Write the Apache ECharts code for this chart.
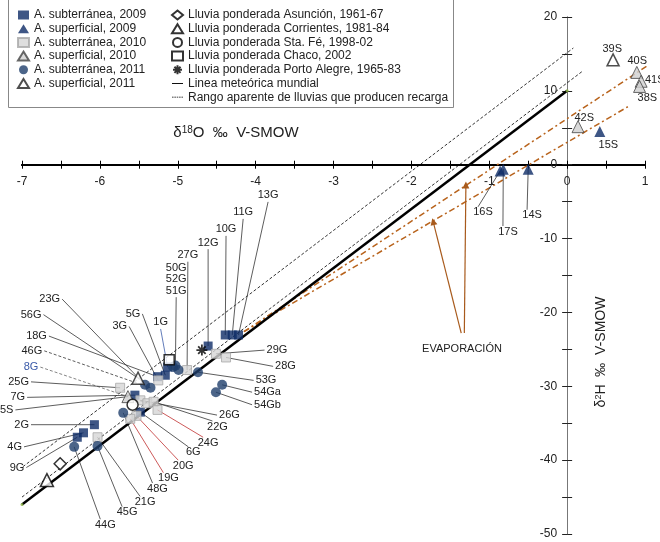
<!DOCTYPE html>
<html><head><meta charset="utf-8">
<script src="https://cdn.jsdelivr.net/npm/echarts@6/dist/echarts.min.js"></script>
<style>html,body{margin:0;padding:0;background:#fff}#c{width:660px;height:542px}</style>
</head><body><div id="c"></div>
<script>
// ---------- DATA ----------
const xTickLabels = [-7,-6,-5,-4,-3,-2,-1,0,1];
const yTickLabels = [20,10,0,-10,-20,-30,-40,-50];

// [id, δ18O, δ2H]
const subterranea2009 = [["10G",-4.39,-23.05],["11G",-4.30,-23.05],["13G",-4.22,-23.05],["12G",-4.61,-24.55],
  ["1G",-5.13,-27.4],["5G",-5.16,-28.5],["18G",-5.26,-28.7],["7G",-5.55,-31.2],["6G",-5.48,-33.5],
  ["2G",-6.07,-35.2],["4G",-6.21,-36.3],["9G",-6.29,-36.9]];
const superficial2009 = [["15S",0.42,4.5],["16S",-0.86,-0.85],["17S",-0.82,-0.6],["14S",-0.50,-0.6]];
const subterranea2010 = [["29G",-4.51,-25.6],["28G",-4.38,-26.1],["27G",-4.88,-27.8],["3G",-5.25,-29.2],
  ["25G",-5.74,-30.2],["26G",-5.48,-31.9],["8G",-5.39,-32.3],["22G",-5.31,-32.1],["24G",-5.26,-33.2],
  ["20G",-5.53,-34.0],["19G",-5.61,-34.4],["21G",-6.03,-36.9]];
const superficial2010 = [["40S",0.895,12.5],["41S",0.95,11.3],["38S",0.93,10.6],["42S",0.14,5.15],["5S",-5.64,-31.4]];
const subterranea2011 = [["50G",-5.06,-27.4],["52G",-4.99,-27.8],["51G",-5.03,-27.2],["53G",-4.74,-28.1],
  ["54Ga",-4.43,-29.8],["54Gb",-4.51,-30.8],["23G",-5.42,-29.8],["46G",-5.35,-30.2],["48G",-5.70,-33.6],
  ["45G",-6.03,-38.1],["44G",-6.33,-38.2]];
const superficial2011 = [["39S",0.59,14.2],["56G",-5.51,-28.9]];

const lluviaAsuncion = [[-6.51,-40.5]];
const lluviaCorrientes = [[-6.68,-42.7]];
const lluviaStaFe = [[-5.58,-32.5]];
const lluviaChaco = [[-5.11,-26.4]];
const lluviaPortoAlegre = [[-4.69,-25.1]];

const lineaMeteorica = [[-7,-46],[0,10]];
const rangoSuperior = [[-7.04,-41.3],[0.08,15.8]];
const rangoInferior = [[-7.0,-45.0],[0.19,12.6]];
const evaporacion1 = [[-4.15,-22.6],[1.19,14.5]];
const evaporacion2 = [[-4.15,-22.6],[0.78,7.85]];
const flechas = [[[-1.36,-22.8],[-1.72,-7.7]],[[-1.32,-22.8],[-1.30,-2.75]]];

// ---------- LABEL LAYOUT (annotation positions, data space) ----------
const RED = '#c03030', BLUE = '#3a5aa8';
const labelLayout = [
  ['13G','T',-3.84,-4.9],['11G','T',-4.16,-7.2],['10G','T',-4.38,-9.5],['12G','T',-4.61,-11.3],
  ['27G','T',-4.87,-13.0],['51G','T',-5.02,-17.8],['1G','T',-5.22,-22.1,{lc:BLUE}],
  ['50G','N',-5.02,-14.0],['52G','N',-5.02,-15.5],
  ['23G','L',-6.51,-18.2],['56G','L',-6.75,-20.3],['5G','L',-5.48,-20.2],['3G','L',-5.65,-21.9],
  ['18G','L',-6.68,-23.2],['46G','L',-6.74,-25.2,{dash:true}],['8G','L',-6.79,-27.4,{tc:BLUE,dash:true,lc:'#666'}],
  ['25G','L',-6.91,-29.4],['7G','L',-6.96,-31.5],['5S','L',-7.11,-33.2],['2G','L',-6.91,-35.2],
  ['4G','L',-7.0,-38.2],['9G','L',-6.97,-41.0],
  ['29G','R',-3.86,-25.1],['28G','R',-3.75,-27.3],['53G','R',-4.0,-29.2],['54Ga','R',-4.02,-30.8],
  ['54Gb','R',-4.02,-32.5],['26G','R',-4.47,-33.9],
  ['22G','B',-4.49,-34.7],['24G','B',-4.61,-36.9,{lc:RED}],['6G','B',-4.80,-38.2],['20G','B',-4.93,-40.0,{lc:RED}],
  ['19G','B',-5.12,-41.7,{lc:RED}],['48G','B',-5.26,-43.1],['21G','B',-5.42,-44.9],['45G','B',-5.65,-46.3],
  ['44G','B',-5.93,-48.0],
  ['16S','B',-1.08,-5.7],['17S','B',-0.76,-8.3],['14S','B',-0.45,-6.1],
  ['39S','N',0.58,15.7],['40S','N',0.90,14.0],['38S','N',1.03,9.0],['42S','N',0.22,6.3],['15S','N',0.53,2.7],
  ['41S','NL',1.0,11.5],
  ['EVAPORACIÓN','N',-1.35,-24.9]
];

// ---------- CHART ----------
const FONT = '"Liberation Sans", Arial, sans-serif';
const pointIndex = {};
[subterranea2009,superficial2009,subterranea2010,superficial2010,subterranea2011,superficial2011]
  .forEach(arr => arr.forEach(p => { pointIndex[p[0]] = [p[1], p[2]]; }));
const xy = arr => arr.map(p => [p[1], p[2]]);

const NAVY = '#0e2c67', NAVYC = '#1f3e6c';
const asterisk = 'path://M5,0L5,10M0,5L10,5M1.6,1.6L8.4,8.4M1.6,8.4L8.4,1.6';

const chart = echarts.init(document.getElementById('c'), null, {renderer:'canvas'});
const axisCommonX = {type:'value', min:-7, max:1, interval:0.5, position:'bottom', splitLine:{show:false}, axisLabel:{show:false}};
const axisCommonY = {type:'value', min:-50, max:20, interval:5, position:'left', splitLine:{show:false}, axisLabel:{show:false}};

const S = (name, data, symbol, size, style, z) => ({
  name, type:'scatter', data, symbol, symbolSize:size, itemStyle:style, z: z||5,
  emphasis:{disabled:true}, animation:false
});
const tickLabelData = xTickLabels.map(v => [v, 0]).concat(yTickLabels.map(v => [0, v]));

chart.setOption({
  animation:false,
  textStyle:{fontFamily:FONT},
  grid:{left:22, right:15, top:17, bottom:8, containLabel:false, outerBoundsMode:'none'},
  xAxis:[
    Object.assign({}, axisCommonX, {
      axisLine:{onZero:true, onZeroAxisIndex:0, lineStyle:{color:'#000', width:2}},
      axisTick:{show:true, length:4, lineStyle:{color:'#000', width:1}}
    }),
    Object.assign({}, axisCommonX, {
      axisLine:{onZero:true, onZeroAxisIndex:0, lineStyle:{color:'#000', width:2}},
      axisTick:{show:true, inside:true, length:4, lineStyle:{color:'#000', width:1}}
    })
  ],
  yAxis:[
    Object.assign({}, axisCommonY, {
      axisLine:{onZero:true, onZeroAxisIndex:0, lineStyle:{color:'#777', width:1}},
      axisTick:{show:true, length:5, lineStyle:{color:'#222', width:1}}
    }),
    Object.assign({}, axisCommonY, {
      axisLine:{onZero:true, onZeroAxisIndex:0, lineStyle:{color:'#777', width:1}},
      axisTick:{show:true, inside:true, length:5, lineStyle:{color:'#222', width:1}}
    })
  ],
  legend:[
    {orient:'vertical', left:12, top:4, itemWidth:11, itemHeight:9, itemGap:1.7, selectedMode:false,
     textStyle:{fontSize:12, color:'#222', fontFamily:FONT},
     data:['A. subterránea, 2009','A. superficial, 2009','A. subterránea, 2010','A. superficial, 2010',
           'A. subterránea, 2011','A. superficial, 2011']},
    {orient:'vertical', left:166, top:4, itemWidth:11, itemHeight:9, itemGap:1.7, selectedMode:false,
     textStyle:{fontSize:12, color:'#222', fontFamily:FONT},
     data:['Lluvia ponderada Asunción, 1961-67','Lluvia ponderada Corrientes, 1981-84',
           'Lluvia ponderada Sta. Fé, 1998-02','Lluvia ponderada Chaco, 2002',
           'Lluvia ponderada Porto Alegre, 1965-83',
           {name:'Linea meteórica mundial', icon:'path://M0,0L14,0L14,1.2L0,1.2Z', itemStyle:{color:'#000'}},
           {name:'Rango aparente de lluvias que producen recarga',
            icon:'path://M0,0L2,0L2,1L0,1ZM3,0L5,0L5,1L3,1ZM6,0L8,0L8,1L6,1ZM9,0L11,0L11,1L9,1ZM12,0L14,0L14,1L12,1Z',
            itemStyle:{color:'#000'}}]}
  ],
  graphic:[
    {type:'rect', shape:{x:8.5, y:-1, width:445, height:108.5}, style:{fill:'none', stroke:'#888', lineWidth:1}, z:0},
    {type:'text', x:236, y:133, style:{text:'{a|δ}{s|18}{a|O  ‰  V-SMOW}', align:'center', verticalAlign:'middle',
      rich:{a:{fontSize:15, fontFamily:FONT, fill:'#222'}, s:{fontSize:10, fontFamily:FONT, fill:'#222', verticalAlign:'top'}}}},
    {type:'text', x:601, y:352, rotation:Math.PI/2, style:{text:'{a|δ}{s|2}{a|H  ‰  V-SMOW}', align:'center', verticalAlign:'middle',
      rich:{a:{fontSize:14, fontFamily:FONT, fill:'#222'}, s:{fontSize:9, fontFamily:FONT, fill:'#222', verticalAlign:'top'}}}}
  ],
  series:[
    {name:'Linea meteórica mundial', type:'line', data:lineaMeteorica, symbol:'none', z:3,
     itemStyle:{color:'#000'}, lineStyle:{color:'#000', width:2.5}, emphasis:{disabled:true}},
    {name:'gmwl-extremos', type:'scatter', data:lineaMeteorica, symbol:'circle', symbolSize:3, z:4, silent:true,
     itemStyle:{color:'#8db545'}},
    {name:'Rango aparente de lluvias que producen recarga', type:'line', data:rangoSuperior, symbol:'none', z:2,
     itemStyle:{color:'#000'}, lineStyle:{color:'#000', width:0.8, type:[3,2]}, emphasis:{disabled:true}},
    {name:'rango-inf', type:'line', data:rangoInferior, symbol:'none', z:2,
     lineStyle:{color:'#000', width:0.8, type:[3,2]}, emphasis:{disabled:true}},
    {name:'evap1', type:'line', data:evaporacion1, symbol:'none', z:2,
     lineStyle:{color:'#b8631c', width:1.5, type:[6,3,2,3]}, emphasis:{disabled:true}},
    {name:'evap2', type:'line', data:evaporacion2, symbol:'none', z:2,
     lineStyle:{color:'#b8631c', width:1.5, type:[6,3,2,3]}, emphasis:{disabled:true}},
    {name:'flechas', type:'lines', coordinateSystem:'cartesian2d', z:3, silent:true,
     data:flechas.map(c => ({coords:c})), symbol:['none','triangle'], symbolSize:7,
     lineStyle:{color:'#a85a1c', width:1.2, opacity:1}},
    {name:'etiquetas-eje', type:'custom', z:3, silent:true, clip:false,
     data:tickLabelData, encode:{x:0, y:1},
     renderItem:(params, api) => {
       const i = params.dataIndex, d = tickLabelData[i];
       const p = api.coord(d);
       const isX = i < xTickLabels.length;
       return {type:'text', x: isX ? p[0] : p[0]-10, y: isX ? p[1]+17 : p[1],
         style:{text:String(isX ? d[0] : d[1]), align: isX ? 'center' : 'right', verticalAlign:'middle',
           fill:'#222', font:'12px "Liberation Sans", Arial, sans-serif'}};
     }},
    {name:'etiquetas', type:'custom', z:3, silent:true, clip:false,
     data:labelLayout.map(l => [l[2], l[3]]), encode:{x:0, y:1},
     renderItem:(params, api) => {
       const L = labelLayout[params.dataIndex];
       const name = L[0], side = L[1], opt = L[4] || {};
       const a = api.coord([L[2], L[3]]);
       let align='center', vAlign='middle', start=null;
       if (side==='L'){align='right'; start=[a[0]+2, a[1]];}
       else if (side==='R'){align='left'; start=[a[0]-2, a[1]];}
       else if (side==='T'){vAlign='bottom'; start=[a[0], a[1]+1];}
       else if (side==='B'){vAlign='top'; start=[a[0]-5, a[1]];}
       else if (side==='NL'){align='left';}
       const children=[];
       const tgt = pointIndex[name];
       if (start && tgt){
         const p = api.coord(tgt);
         children.push({type:'line', shape:{x1:start[0], y1:start[1], x2:p[0], y2:p[1]},
           style:{stroke:opt.lc||'#333', lineWidth:0.8, lineDash:opt.dash?[3,2]:null}});
       }
       children.push({type:'text', x:a[0], y:a[1], style:{text:name, align:align, verticalAlign:vAlign,
         fill:opt.tc||'#222', font:'11px "Liberation Sans", Arial, sans-serif'}});
       return {type:'group', children};
     }},
    S('A. subterránea, 2009', xy(subterranea2009), 'rect', 9, {color:NAVY}),
    S('A. superficial, 2009', xy(superficial2009), 'triangle', 11, {color:NAVY}),
    S('A. subterránea, 2010', xy(subterranea2010), 'rect', 9, {color:'#d6d6d6', borderColor:'#a8a8a8', borderWidth:1}),
    S('A. superficial, 2010', xy(superficial2010), 'triangle', 12, {color:'#d0d0d0', borderColor:'#444', borderWidth:1}),
    S('A. subterránea, 2011', xy(subterranea2011), 'circle', 10, {color:NAVYC}),
    S('A. superficial, 2011', xy(superficial2011), 'triangle', 12, {color:'#fff', borderColor:'#222', borderWidth:1.5}),
    S('Lluvia ponderada Asunción, 1961-67', lluviaAsuncion, 'diamond', 12, {color:'#fff', borderColor:'#000', borderWidth:1.5}),
    S('Lluvia ponderada Corrientes, 1981-84', lluviaCorrientes, 'triangle', 13, {color:'#fff', borderColor:'#000', borderWidth:1.5}),
    S('Lluvia ponderada Sta. Fé, 1998-02', lluviaStaFe, 'circle', 11, {color:'#fff', borderColor:'#000', borderWidth:1.5}),
    S('Lluvia ponderada Chaco, 2002', lluviaChaco, 'rect', 10, {color:'#fff', borderColor:'#000', borderWidth:1.5}),
    S('Lluvia ponderada Porto Alegre, 1965-83', lluviaPortoAlegre, asterisk, 11, {color:'rgba(0,0,0,0)', borderColor:'#000', borderWidth:1.8}, 6)
  ]
});
</script></body></html>
